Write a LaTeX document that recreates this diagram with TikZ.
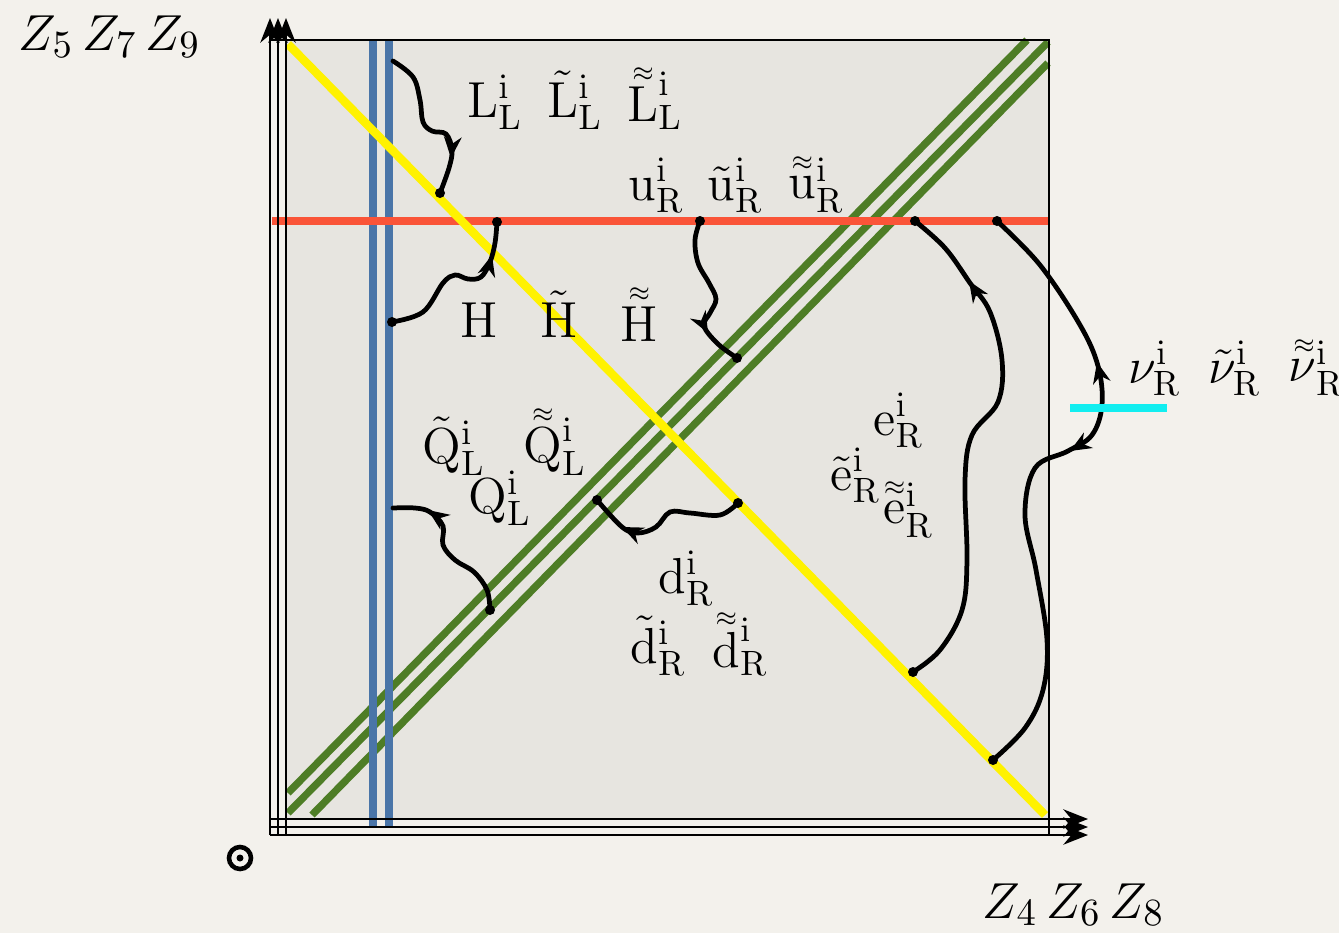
\documentclass[tikz,border=0pt]{standalone}
\usetikzlibrary{arrows.meta}
\definecolor{paper}{HTML}{F3F1EC}
\definecolor{panel}{HTML}{E7E5E0}
\definecolor{sunny}{HTML}{FFF200}
\definecolor{steel}{HTML}{4A75A8}
\definecolor{brick}{HTML}{FA5438}
\definecolor{moss}{HTML}{4E7D26}
\definecolor{aqua}{HTML}{12EEF0}
\newcommand{\twotilde}[1]{\mathord{\vphantom{#1}\smash{\stackrel{\scriptscriptstyle\approx}{#1}}}}
\tikzset{
  axis/.style={line width=0.7pt,-{Stealth[length=7pt,width=5.5pt]}},
  wave/.style={line width=1.35pt,line cap=round},
  tip/.style={line width=1.35pt,-{Stealth[length=6pt,width=5pt]}},
  lbl/.style={anchor=base west,inner sep=0pt}
}
\begin{document}
\begin{tikzpicture}[x=0.01cm,y=-0.01cm,font=\fontsize{14}{16}\selectfont]
  \useasboundingbox (0,0) rectangle (1339,933);
  \fill[paper] (0,0) rectangle (1339,933);
  \fill[panel] (286,40) rectangle (1049,819);

  \draw[moss,line width=2.1pt] (288,793)--(1027,40);
  \draw[moss,line width=2.1pt] (288,813)--(1048,42);
  \draw[moss,line width=2.1pt] (312,815)--(1048,63);
  \draw[steel,line width=2.1pt] (373,40)--(373,826);
  \draw[steel,line width=2.1pt] (389,40)--(389,826);
  \draw[brick,line width=2.1pt] (272,221)--(1048,221);
  \draw[sunny,line width=2.4pt] (288,44)--(1045,815);

  \draw[line width=0.7pt] (270,40)--(1049,40)--(1049,835);
  \draw[axis] (270,835)--(270,18);
  \draw[axis] (278,835)--(278,18);
  \draw[axis] (286,835)--(286,18);
  \draw[axis] (270,819)--(1088,819);
  \draw[axis] (270,827)--(1088,827);
  \draw[axis] (270,835)--(1088,835);

  \draw[line width=1.3pt] (240,858) circle (0.11cm);
  \fill (240,858) circle (0.035cm);

  \node[lbl,font=\fontsize{15}{17}\selectfont] (zup) at (18,50) {$Z_5\,Z_7\,Z_9$};
  \node[lbl,font=\fontsize{15}{17}\selectfont] (zright) at (982,918) {$Z_4\,Z_6\,Z_8$};

  \node[lbl] (LL) at (467,117) {$\mathrm{L}_{\mathrm{L}}^{\mathrm{i}}$};
  \node[lbl] (LLt) at (547,117) {$\tilde{\mathrm{L}}_{\mathrm{L}}^{\mathrm{i}}$};
  \node[lbl] (LLtt) at (627,117) {$\twotilde{\mathrm{L}}_{\mathrm{L}}^{\mathrm{i}}$};
  \node[lbl] (uR) at (628,200) {$\mathrm{u}_{\mathrm{R}}^{\mathrm{i}}$};
  \node[lbl] (uRt) at (707,200) {$\tilde{\mathrm{u}}_{\mathrm{R}}^{\mathrm{i}}$};
  \node[lbl] (uRtt) at (788,200) {$\twotilde{\mathrm{u}}_{\mathrm{R}}^{\mathrm{i}}$};
  \node[lbl] (H) at (460,337) {$\mathrm{H}$};
  \node[lbl] (Ht) at (540,337) {$\tilde{\mathrm{H}}$};
  \node[lbl] (Htt) at (620,337) {$\twotilde{\mathrm{H}}$};
  \node[lbl] (nuR) at (1128,383) {$\nu_{\mathrm{R}}^{\mathrm{i}}$};
  \node[lbl] (nuRt) at (1208,383) {$\tilde{\nu}_{\mathrm{R}}^{\mathrm{i}}$};
  \node[lbl] (nuRtt) at (1288,383) {$\twotilde{\nu}_{\mathrm{R}}^{\mathrm{i}}$};
  \node[lbl] (QLt) at (422,463) {$\tilde{\mathrm{Q}}_{\mathrm{L}}^{\mathrm{i}}$};
  \node[lbl] (QLtt) at (523,463) {$\twotilde{\mathrm{Q}}_{\mathrm{L}}^{\mathrm{i}}$};
  \node[lbl] (QL) at (468,513) {$\mathrm{Q}_{\mathrm{L}}^{\mathrm{i}}$};
  \node[lbl] (eR) at (873,435) {$\mathrm{e}_{\mathrm{R}}^{\mathrm{i}}$};
  \node[lbl] (eRt) at (830,490) {$\tilde{\mathrm{e}}_{\mathrm{R}}^{\mathrm{i}}$};
  \node[lbl] (eRtt) at (883,525) {$\twotilde{\mathrm{e}}_{\mathrm{R}}^{\mathrm{i}}$};
  \node[lbl] (dR) at (658,593) {$\mathrm{d}_{\mathrm{R}}^{\mathrm{i}}$};
  \node[lbl] (dRt) at (630,663) {$\tilde{\mathrm{d}}_{\mathrm{R}}^{\mathrm{i}}$};
  \node[lbl] (dRtt) at (712,663) {$\twotilde{\mathrm{d}}_{\mathrm{R}}^{\mathrm{i}}$};

  \coordinate (LLfrom) at (393,61);
  \coordinate (LLto) at (440,193);
  \coordinate (Hfrom) at (392,322);
  \coordinate (Hto) at (497,222);
  \coordinate (uRfrom) at (700,221);
  \coordinate (uRto) at (737,358);
  \coordinate (eRfrom) at (913,672);
  \coordinate (eRto) at (915,221);
  \coordinate (nuRfrom) at (993,760);
  \coordinate (nuRto) at (997,221);
  \coordinate (QLfrom) at (490,610);
  \coordinate (QLto) at (393,508);
  \coordinate (dRfrom) at (738,503);
  \coordinate (dRto) at (597,500);

  \draw[wave] plot[smooth,tension=0.6] coordinates
    {(LLfrom) (413,77) (420,100) (423,122) (432,131) (446,134) (452,150) (449,168) (LLto)};
  \draw[wave] plot[smooth,tension=0.6] coordinates
    {(Hfrom) (423,312) (443,283) (455,275) (468,279) (481,277) (490,262) (495,243) (Hto)};
  \draw[wave] plot[smooth,tension=0.6] coordinates
    {(uRfrom) (695,240) (698,263) (709,283) (716,299) (710,313) (704,326) (718,344) (uRto)};
  \draw[wave] plot[smooth,tension=0.6] coordinates
    {(eRfrom) (940,650) (962,610) (967,560) (965,480) (972,435) (998,402) (1002,360) (990,312) (970,283) (945,248) (eRto)};
  \draw[wave] plot[smooth,tension=0.6] coordinates
    {(nuRfrom) (1025,728) (1043,690) (1047,640) (1036,570) (1025,515) (1035,468) (1068,451) (1092,435) (1102,405) (1098,366) (1080,325) (1040,265) (nuRto)};
  \draw[wave] plot[smooth,tension=0.6] coordinates
    {(QLfrom) (487,590) (474,572) (455,560) (443,545) (443,526) (430,512) (415,508) (QLto)};
  \draw[wave] plot[smooth,tension=0.6] coordinates
    {(dRfrom) (720,515) (690,513) (670,512) (656,527) (638,533) (622,527) (dRto)};

  \draw[tip] (452,146)--(451,158);
  \draw[tip] (489,266)--(492,255);
  \draw[tip] (702,322)--(708,333);
  \draw[tip] (978,295)--(969,281);
  \draw[tip] (1100,375)--(1097,362);
  \draw[tip] (1082,444)--(1070,451);
  \draw[tip] (438,517)--(428,510);
  \draw[tip] (633,532)--(622,527);

  \foreach \p in {LLto,Hfrom,Hto,uRfrom,uRto,eRfrom,eRto,nuRfrom,nuRto,QLfrom,dRfrom,dRto}
    \fill (\p) circle (0.05cm);

  \draw[aqua,line width=2.3pt] (1070,408)--(1167,408);
\end{tikzpicture}
\end{document}
